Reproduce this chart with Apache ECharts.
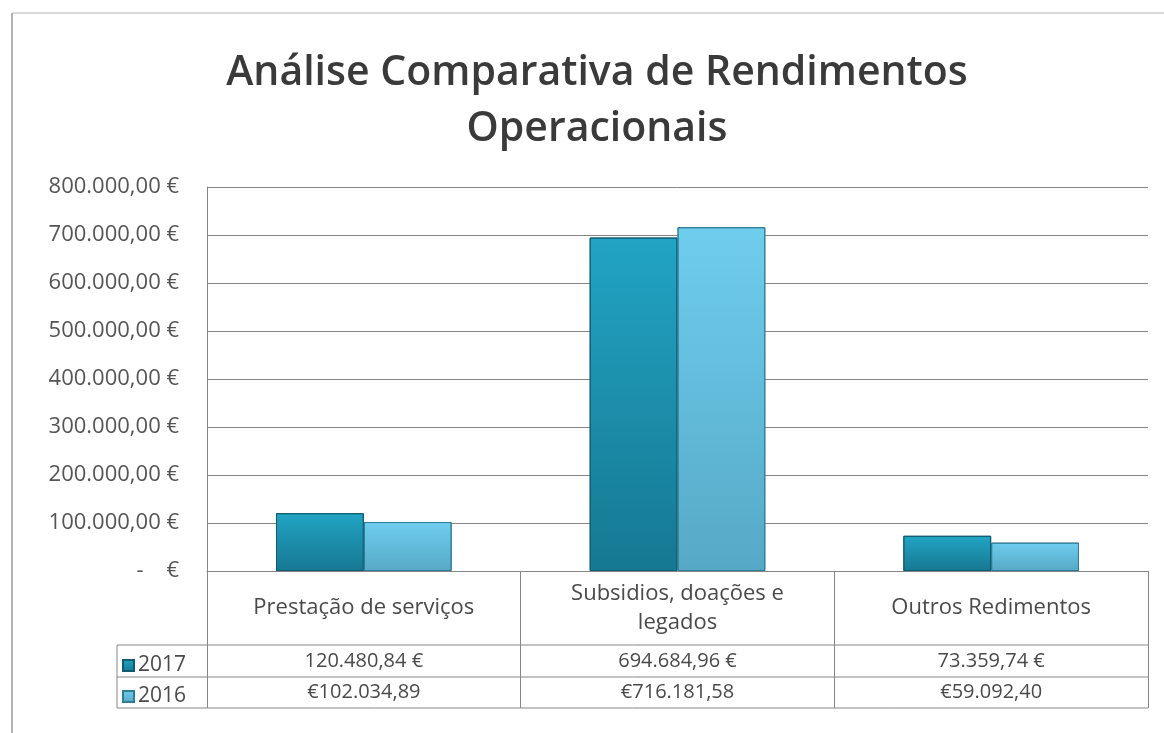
<!DOCTYPE html>
<html>
<head>
<meta charset="utf-8">
<script src="https://cdn.jsdelivr.net/npm/echarts@6/dist/echarts.min.js"></script>
<style>
  html, body { margin: 0; padding: 0; background: #fff; }
  #chart { width: 1164px; height: 733px; }
</style>
</head>
<body>
<div id="chart"></div>
<script>
const categories = ['Prestação de serviços', 'Subsidios, doações e\nlegados', 'Outros Redimentos']
const years = ['2017', '2016']
const values2017 = [120480.84, 694684.96, 73359.74]
const values2016 = [102034.89, 716181.58, 59092.40]

const FONT = '"Open Sans", sans-serif'
const TEXT = '#4a4a4a'
const LINE = '#858585'

// 120480.84 -> "120.480,84"
function ptNumber(v) {
  const parts = v.toFixed(2).split('.')
  return parts[0].replace(/\B(?=(\d{3})+(?!\d))/g, '.') + ',' + parts[1]
}

const chart = echarts.init(document.getElementById('chart'))

const gridLeft = 207, gridRight = 16, gridTop = 187, gridBottom = 162
const rowTop = 571, rowHeader = 645, row1 = 677, row2 = 708, tableLeft = 117
const tableRight = 1164 - gridRight

chart.setOption({
  animation: false,
  backgroundColor: '#fff',
  title: {
    text: 'Análise Comparativa de Rendimentos\nOperacionais',
    left: 592, top: 40, textAlign: 'center',
    textStyle: { fontFamily: FONT, fontSize: 41, fontWeight: 600, color: '#3a3a3a', lineHeight: 56 }
  },
  legend: {
    data: years, orient: 'vertical', left: 117, top: 650,
    itemWidth: 11, itemHeight: 11, itemGap: 10, icon: 'rect',
    textStyle: { fontFamily: FONT, fontSize: 21, color: TEXT, padding: [0, 0, 0, -1] }
  },
  grid: { left: gridLeft, right: gridRight, top: gridTop, bottom: gridBottom },
  xAxis: {
    type: 'category', data: categories,
    axisLine: { lineStyle: { color: LINE, width: 1 } },
    axisTick: { show: true, length: row2 - rowTop, lineStyle: { color: LINE } },
    axisLabel: {
      fontFamily: FONT, fontSize: 22, color: TEXT, margin: 37,
      verticalAlign: 'middle', lineHeight: 29
    }
  },
  yAxis: {
    type: 'value', min: 0, max: 800000, interval: 100000,
    axisLine: { show: true, lineStyle: { color: LINE } },
    splitLine: { lineStyle: { color: LINE, width: 1 } },
    axisLabel: {
      fontFamily: FONT, fontSize: 22, color: '#555', margin: 28,
      formatter: v => v === 0 ? '-    €' : ptNumber(v) + ' €'
    }
  },
  series: [
    {
      name: '2017', type: 'bar', data: values2017, barGap: '0%', barCategoryGap: '44%',
      itemStyle: {
        color: new echarts.graphic.LinearGradient(0, 0, 0, 1, [
          { offset: 0, color: '#22a4c4' },
          { offset: 1, color: '#167892' }
        ]),
        borderColor: '#0f5b6f', borderWidth: 1
      }
    },
    {
      name: '2016', type: 'bar', data: values2016,
      itemStyle: {
        color: new echarts.graphic.LinearGradient(0, 0, 0, 1, [
          { offset: 0, color: '#6fcdee' },
          { offset: 1, color: '#56a9c6' }
        ]),
        borderColor: '#2e7d95', borderWidth: 1
      }
    }
  ]
})

// data table rows under the axis
const hLine = (y, x1) => ({
  type: 'line', silent: true,
  shape: { x1: x1, y1: y, x2: tableRight, y2: y },
  style: { stroke: LINE, lineWidth: 1 }
})
const cellText = (x, y, text) => ({
  type: 'text', silent: true, x: x, y: y,
  style: { text: text, fontFamily: FONT, fontSize: 20, fill: TEXT, align: 'center', verticalAlign: 'middle' }
})

const graphics = [
  hLine(rowHeader, tableLeft),
  hLine(row1, tableLeft),
  hLine(row2, tableLeft),
  { type: 'line', silent: true, shape: { x1: tableLeft, y1: rowHeader, x2: tableLeft, y2: row2 }, style: { stroke: LINE, lineWidth: 1 } },
  // chart frame edges
  { type: 'line', silent: true, shape: { x1: 12, y1: 13, x2: 1164, y2: 13 }, style: { stroke: '#b5b5b5', lineWidth: 1 } },
  { type: 'line', silent: true, shape: { x1: 12, y1: 13, x2: 12, y2: 733 }, style: { stroke: '#9a9a9a', lineWidth: 1.5 } }
]
categories.forEach((c, i) => {
  const x = chart.convertToPixel({ xAxisIndex: 0 }, i)
  graphics.push(cellText(x, (rowHeader + row1) / 2, ptNumber(values2017[i]) + ' €'))
  graphics.push(cellText(x, (row1 + row2) / 2, '€' + ptNumber(values2016[i])))
})
chart.setOption({ graphic: graphics })
</script>
</body>
</html>
